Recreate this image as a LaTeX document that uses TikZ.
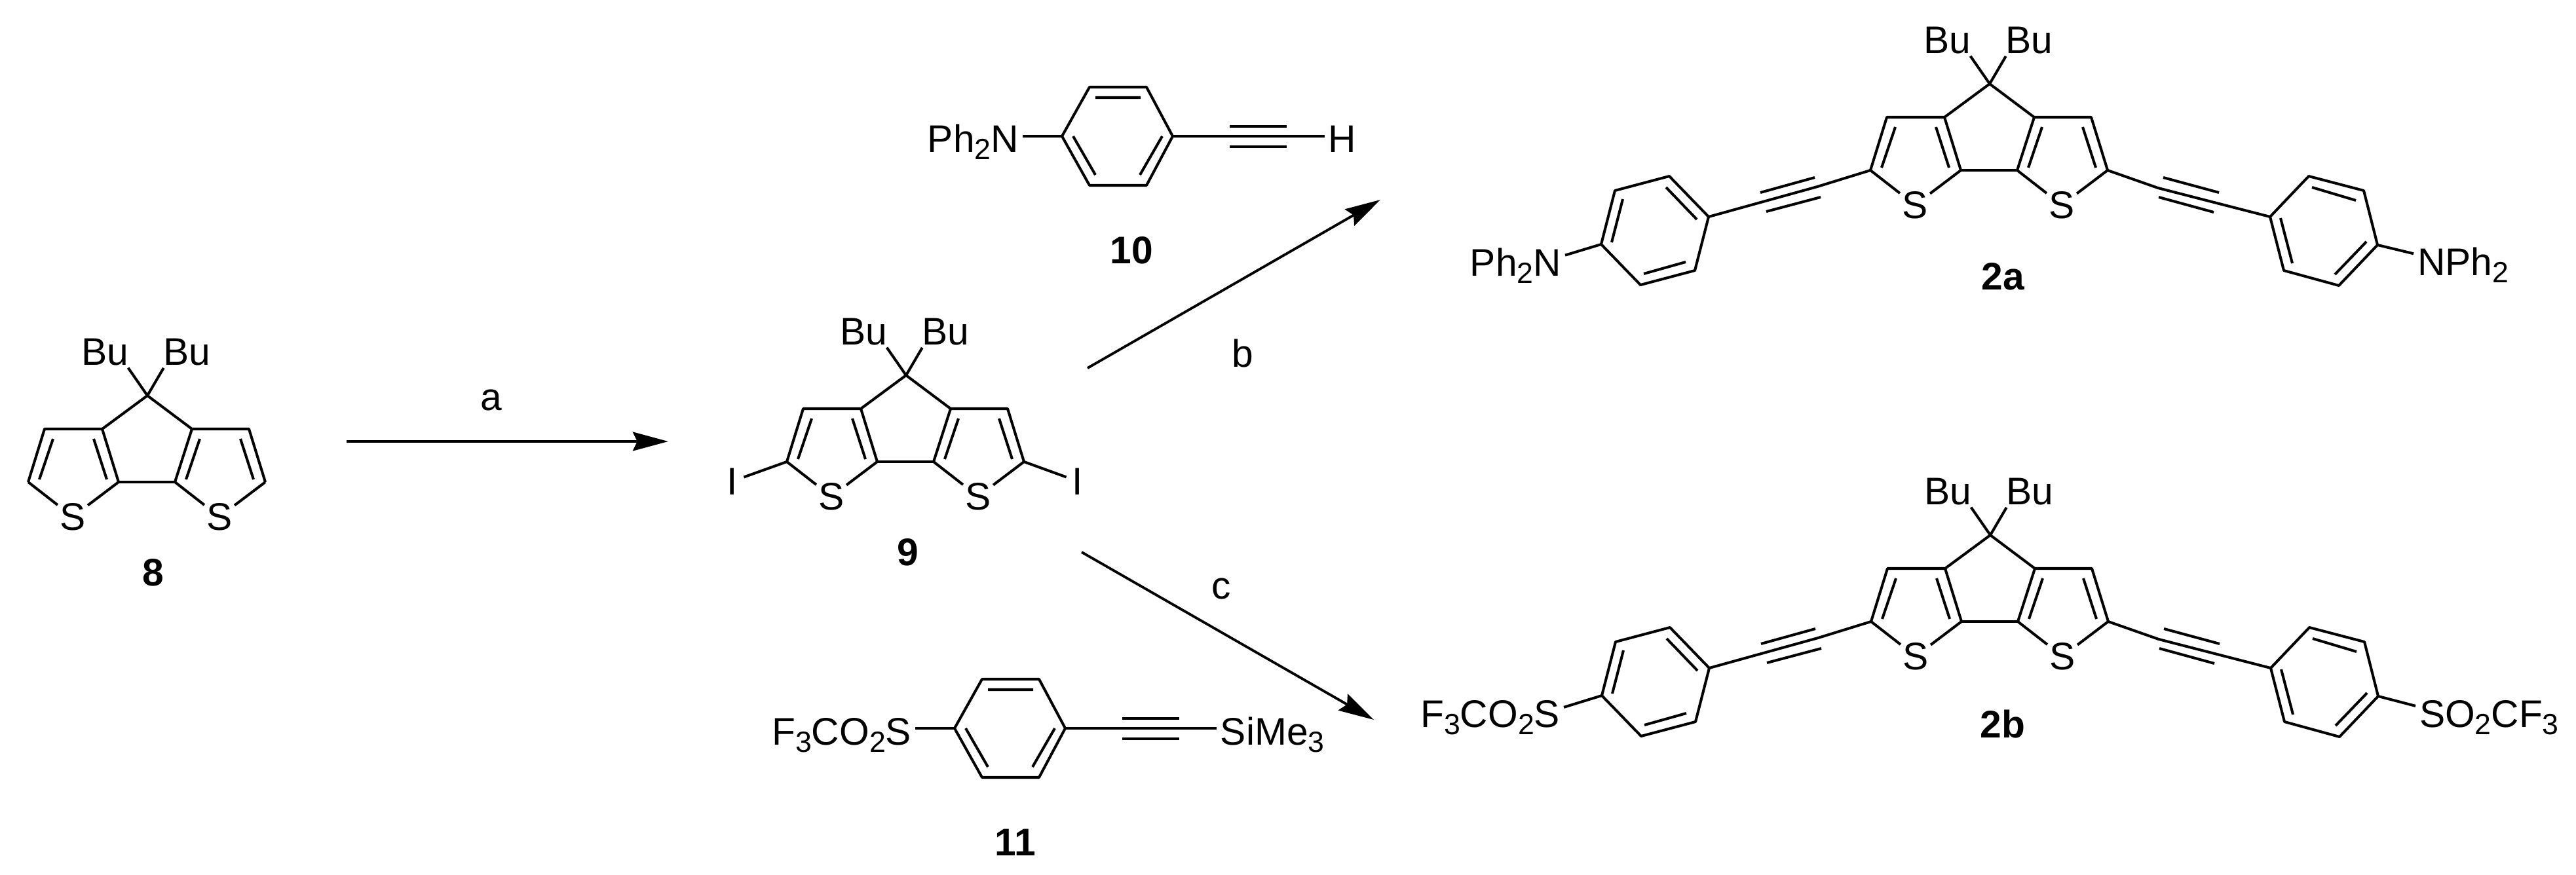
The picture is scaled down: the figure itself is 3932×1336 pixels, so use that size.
\documentclass[tikz,border=0pt]{standalone}
\usepackage{fontspec}
\setmainfont{Liberation Sans}
\usetikzlibrary{arrows.meta}
\tikzset{
  bond/.style={line width=1.15pt,line join=round},
  atom/.style={font=\fontsize{16.7pt}{20pt}\selectfont,inner xsep=1.7pt,inner ysep=0pt,outer sep=0pt},
  toS/.style={bond,shorten >=-.9pt},
  toBu/.style={bond,shorten >=1.4pt},
  complabel/.style={font=\fontsize{16.7pt}{20pt}\selectfont\bfseries,inner sep=0pt},
  steplabel/.style={font=\fontsize{16.7pt}{20pt}\selectfont,inner sep=0pt},
  rxn/.style={line width=1.1pt,-{Stealth[length=15.4pt,width=8.2pt,inset=2pt]}}
}
% Subscript digit, as the formulas print it
\newcommand{\lowdigit}[1]{\raisebox{-3.4pt}{\fontsize{12.7pt}{14pt}\selectfont #1}}
% The fused core, drawn around its top carbon
\newcommand{\fusedcore}[1]{
  \foreach \n/\x/\y in {q/0/0,a/-69/51,b/-157/51,c/-182/132,d/-44/132,e/42/132,f/68/51,g/155/51,h/180/132,
      ba/-144/66,bb/-165/128,da/-82/66,db/-62/128,ea/80/66,eb/59/128,ga/142/66,gb/162/128}{
    \coordinate (#1\n) at (\x,\y);
  }
  \node[atom] (#1sl) at (-114,185) {S};
  \node[atom] (#1sr) at (110,185) {S};
  \node[atom,anchor=base] (#1bul) at (-65,-47) {Bu};
  \node[atom,anchor=base] (#1bur) at (60,-47) {Bu};
  \draw[bond] (#1c) -- (#1b) -- (#1a) -- (#1q) -- (#1f) -- (#1g) -- (#1h);
  \draw[bond] (#1d) -- (#1e);
  \draw[toS] (#1c) -- (#1sl);
  \draw[toS] (#1d) -- (#1sl);
  \draw[toS] (#1e) -- (#1sr);
  \draw[toS] (#1h) -- (#1sr);
  \draw[bond] (#1a) -- (#1d) (#1e) -- (#1f);
  \draw[bond] (#1ba) -- (#1bb) (#1da) -- (#1db) (#1ea) -- (#1eb) (#1ga) -- (#1gb);
  \draw[toBu] (#1q) -- (#1bul.-32);
  \draw[toBu] (#1q) -- (#1bur.-148);
}
% The two ethynylphenyl arms on the core
\newcommand{\twoarms}[1]{
  \foreach \n/\x/\y in {lk/-263/157,r1/-429/203,r2/-489/141,r3/-572/163,r4/-593/245,r5/-533/307,r6/-450/285,
      lua/-350/166,lub/-267/143,lla/-341/195,llb/-258/173,
      ia/-447/207,ib/-494/158,ic/-560/176,id/-577/242,ie/-528/290,if/-464/272,
      rk/257/159,s1/428/203,s2/487/141,s3/571/163,s4/592/246,s5/533/308,s6/449/285,
      rua/265/143,rub/350/166,rla/258/173,rlb/342/196,
      ja/492/158,jb/559/178,jc/444/205,jd/462/274,je/575/241,jf/527/291}{
    \coordinate (#1\n) at (\x,\y);
  }
  \draw[bond] (#1c) -- (#1lk) -- (#1r1);
  \draw[bond] (#1h) -- (#1rk) -- (#1s1);
  \draw[bond] (#1r1) -- (#1r2) -- (#1r3) -- (#1r4) -- (#1r5) -- (#1r6) -- cycle;
  \draw[bond] (#1s1) -- (#1s2) -- (#1s3) -- (#1s4) -- (#1s5) -- (#1s6) -- cycle;
  \draw[bond] (#1lua) -- (#1lub) (#1lla) -- (#1llb) (#1rua) -- (#1rub) (#1rla) -- (#1rlb);
  \draw[bond] (#1ia) -- (#1ib) (#1ic) -- (#1id) (#1ie) -- (#1if);
  \draw[bond] (#1ja) -- (#1jb) (#1jc) -- (#1jd) (#1je) -- (#1jf);
}
% Phenyl ring with its triple bond, from the left ring carbon
\newcommand{\alkynering}[1]{
  \foreach \n/\x/\y in {l/0/0,tl/42/-75,tr/129/-75,r/169/0,br/129/75,bl/42/75,
      ta/51/-59,tb/120/-59,ua/17/0,ub/51/59,va/153/0,vb/119/59,
      pa/256/-15,pb/343/-15,wa/256/16,wb/343/16}{
    \coordinate (#1\n) at (\x,\y);
  }
  \draw[bond] (#1l) -- (#1tl) -- (#1tr) -- (#1r) -- (#1br) -- (#1bl) -- cycle;
  \draw[bond] (#1ta) -- (#1tb) (#1ua) -- (#1ub) (#1va) -- (#1vb);
  \draw[bond] (#1pa) -- (#1pb) (#1wa) -- (#1wb);
}
\begin{document}
\begin{tikzpicture}[x=0.01cm,y=-0.01cm]
\useasboundingbox (0,0) rectangle (3932,1336);

% Compound 8
\begin{scope}[shift={(225,604)}]
\fusedcore{eight}
\end{scope}
\node[complabel] (eightlabel) at (234,874) {8};

% Compound 9
\begin{scope}[shift={(1383,573)}]
\fusedcore{nine}
\node[atom,anchor=base] (ninei) at (-265,182) {I};
\node[atom,anchor=base] (nineii) at (262,182) {I};
\draw[bond,shorten >=1pt] (ninec) -- (ninei.20);
\draw[bond,shorten >=1pt] (nineh) -- (nineii.160);
\end{scope}
\node[complabel] (ninelabel) at (1386,843) {9};

% Compound 10
\begin{scope}[shift={(1621,208)}]
\alkynering{ten}
\node[atom,anchor=base east] (tenn) at (-60,24) {Ph\lowdigit{2}N};
\node[atom,anchor=base west] (tenh) at (401,24) {H};
\draw[bond] (tenl) -- (tenl -| tenn.east);
\draw[bond] (tenr) -- (tenr -| tenh.west);
\end{scope}
\node[complabel] (tenlabel) at (1727,382) {10};

% Compound 11
\begin{scope}[shift={(1457,1112)}]
\alkynering{ele}
\node[atom,anchor=base east] (eles) at (-60,25) {F\lowdigit{3}CO\lowdigit{2}S};
\node[atom,anchor=base west] (elesi) at (400,25) {SiMe\lowdigit{3}};
\draw[bond] (elel) -- (elel -| eles.east);
\draw[bond] (eler) -- (eler -| elesi.west);
\end{scope}
\node[complabel] (elelabel) at (1550,1286) {11};

% Compound 2a
\begin{scope}[shift={(3037,128)}]
\fusedcore{twoa}
\twoarms{twoa}
\node[atom,anchor=base east] (twoaln) at (-648,293) {Ph\lowdigit{2}N};
\node[atom,anchor=base west] (twoarn) at (647,292) {NPh\lowdigit{2}};
\draw[bond] (twoar4) -- (twoaln.12.8);
\draw[bond] (twoas4) -- (twoarn.167.6);
\end{scope}
\node[complabel] (twoalabel) at (3057,422) {2a};

% Compound 2b
\begin{scope}[shift={(3038,817)}]
\fusedcore{twob}
\twoarms{twob}
\node[atom,anchor=base east] (twobls) at (-651,293) {F\lowdigit{3}CO\lowdigit{2}S};
\node[atom,anchor=base west] (twobrs) at (649,293) {SO\lowdigit{2}CF\lowdigit{3}};
\draw[bond] (twobr4) -- (twobls.8.6);
\draw[bond] (twobs4) -- (twobrs.171.6);
\end{scope}
\node[complabel] (twoblabel) at (3057,1105) {2b};

% Reaction arrows
\coordinate (astart) at (529,674);
\coordinate (aend) at (1020,674);
\coordinate (bstart) at (1660,562);
\coordinate (bend) at (2107,305);
\coordinate (cstart) at (1651,843);
\coordinate (cend) at (2097,1099);
\draw[rxn] (astart) -- (aend);
\draw[rxn] (bstart) -- (bend);
\draw[rxn] (cstart) -- (cend);
\node[steplabel] (alabel) at (750,611) {a};
\node[steplabel] (blabel) at (1897,539) {b};
\node[steplabel] (clabel) at (1864,899) {c};

\end{tikzpicture}
\end{document}
